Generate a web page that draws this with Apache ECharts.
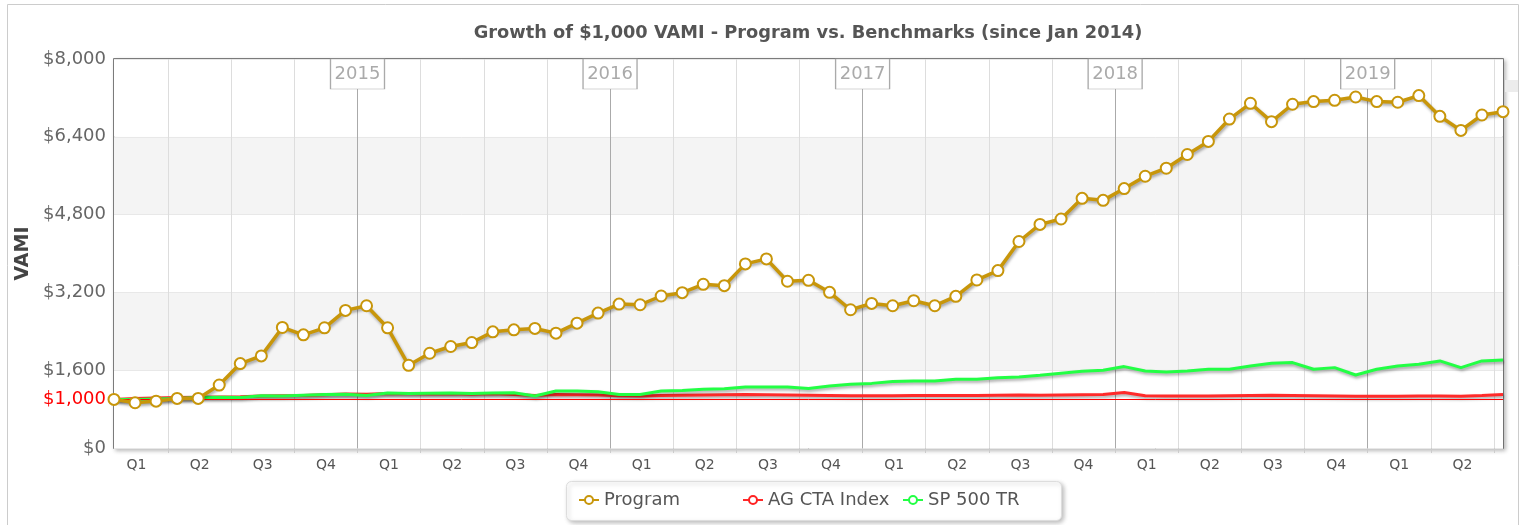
<!DOCTYPE html>
<html>
<head>
<meta charset="utf-8">
<script src="https://cdn.jsdelivr.net/npm/echarts@6/dist/echarts.min.js"></script>
<style>
  html, body { margin: 0; padding: 0; background: #fff; }
  #chart { width: 1529px; height: 525px; }
</style>
</head>
<body>
<div id="chart"></div>
<script>
// values, one point per month, Jan 2014 .. Jul 2019
const program = [
    1000, 931, 964, 1020, 1020, 1295, 1736, 1894, 2479, 2327,
    2472, 2830, 2926, 2472, 1701, 1949, 2087, 2169, 2389, 2430,
    2459, 2362, 2568, 2775, 2960, 2946, 3126, 3194, 3367, 3339,
    3786, 3889, 3429, 3449, 3201, 2843, 2974, 2926, 3029, 2926,
    3119, 3456, 3648, 4247, 4598, 4709, 5134, 5093, 5335, 5589,
    5754, 6036, 6305, 6765, 7089, 6711, 7069, 7124, 7151, 7219,
    7124, 7110, 7248, 6821, 6532, 6848, 6917
];
const agCta = [
    1000, 1020, 1030, 1040, 1045, 1050, 1055, 1070, 1075, 1080,
    1095, 1110, 1105, 1120, 1115, 1110, 1115, 1105, 1115, 1100,
    1080, 1100, 1095, 1090, 1075, 1070, 1080, 1085, 1090, 1095,
    1100, 1095, 1090, 1085, 1080, 1075, 1075, 1075, 1080, 1080,
    1080, 1080, 1085, 1090, 1085, 1090, 1095, 1100, 1140, 1075,
    1070, 1070, 1070, 1075, 1080, 1085, 1080, 1075, 1070, 1065,
    1065, 1065, 1070, 1070, 1065, 1080, 1100
];
const sp500 = [
    1000, 1000, 1010, 1020, 1040, 1045, 1040, 1075, 1070, 1085,
    1100, 1105, 1080, 1130, 1120, 1125, 1130, 1120, 1130, 1137,
    1068, 1171, 1171, 1157, 1102, 1102, 1171, 1185, 1206, 1219,
    1254, 1254, 1254, 1226, 1274, 1309, 1329, 1370, 1378, 1378,
    1412, 1412, 1447, 1460, 1494, 1536, 1577, 1598, 1674, 1584,
    1563, 1584, 1619, 1619, 1688, 1743, 1757, 1619, 1653, 1501,
    1619, 1688, 1722, 1791, 1653, 1791, 1812
];
const seriesNames = ['Program', 'AG CTA Index', 'SP 500 TR'];
const yearLabels = ['2015', '2016', '2017', '2018', '2019'];
const quarterNames = ['Q1', 'Q2', 'Q3', 'Q4'];

// x axis is in months since 1 Jan 2014; each point sits a bit into its month
const POINT_OFFSET = 0.43;
const toXY = arr => arr.map((v, i) => [i + POINT_OFFSET, v]);
const xMin = POINT_OFFSET;
const xMax = program.length - 1 + POINT_OFFSET;

const quarterBounds = [];
for (let m = 3; m < xMax; m += 3) quarterBounds.push(m);
const quarterMids = [];
for (let m = 1.5; m < xMax; m += 3) quarterMids.push(m);

const shadow = {
    shadowColor: 'rgba(0,0,0,0.35)',
    shadowBlur: 3,
    shadowOffsetX: 1,
    shadowOffsetY: 2
};
const FONT = "'DejaVu Sans', Verdana, sans-serif";

// one legend per item so the spacing matches the fixed-width items of the original
const legendLefts = [578, 742, 902];
const legends = seriesNames.map((name, k) => ({
    left: legendLefts[k],
    top: 491,
    padding: 0,
    itemWidth: 20,
    itemHeight: 10,
    textStyle: { fontSize: 18, color: '#555', fontFamily: FONT },
    data: [name]
}));

const chart = echarts.init(document.getElementById('chart'), null, { renderer: 'canvas' });

const option = {
    backgroundColor: '#fff',
    animation: false,
    textStyle: { fontFamily: FONT },
    title: {
        text: 'Growth of $1,000 VAMI - Program vs. Benchmarks (since Jan 2014)',
        left: 803,
        top: 19,
        textAlign: 'center',
        textStyle: { fontSize: 17.8, fontWeight: 'bold', color: '#555', fontFamily: FONT }
    },
    graphic: [
        { type: 'rect', shape: { x: 7.5, y: 4.5, width: 1511, height: 530 },
          style: { fill: 'none', stroke: '#ccc', lineWidth: 1 }, silent: true, z: -1 },
        { type: 'rect', shape: { x: 1505, y: 80, width: 13, height: 12 },
          style: { fill: '#ececec' }, silent: true },
        { type: 'rect', shape: { x: 566.5, y: 481.5, width: 495, height: 39, r: 5 },
          style: { fill: '#fff', stroke: '#ddd', lineWidth: 1,
                   shadowColor: 'rgba(0,0,0,0.25)', shadowBlur: 4, shadowOffsetX: 2, shadowOffsetY: 2 },
          silent: true, z: 0 }
    ],
    legend: legends,
    grid: {
        left: 114,
        right: 26,
        top: 59,
        bottom: 77,
        show: true,
        backgroundColor: '#fff',
        borderColor: '#555',
        borderWidth: 1.5,
        shadowColor: 'rgba(0,0,0,0.25)',
        shadowBlur: 4,
        shadowOffsetX: 2,
        shadowOffsetY: 2
    },
    xAxis: {
        type: 'value',
        min: xMin,
        max: xMax,
        axisLine: { show: false },
        axisTick: {
            show: true,
            length: 5,
            customValues: quarterBounds,
            lineStyle: { color: '#ccc' }
        },
        axisLabel: {
            customValues: quarterMids,
            margin: 10,
            fontSize: 14,
            color: '#555',
            formatter: v => quarterNames[Math.floor(v / 3) % 4]
        },
        splitLine: {
            show: true,
            lineStyle: { color: ['#ddd', '#ddd', '#ddd', '#aaa'], width: 1 }
        }
    },
    yAxis: {
        type: 'value',
        min: 0,
        max: 8000,
        interval: 1600,
        name: 'VAMI',
        nameLocation: 'middle',
        nameGap: 79,
        nameRotate: 90,
        nameTextStyle: { fontSize: 19, fontWeight: 'bold', color: '#444', fontFamily: FONT },
        axisLine: { show: false },
        axisTick: { show: false },
        axisLabel: {
            margin: 8,
            fontSize: 18,
            color: '#666',
            formatter: v => '$' + v.toLocaleString('en-US')
        },
        splitLine: { show: true, lineStyle: { color: '#e8e8e8' } },
        splitArea: { show: true, areaStyle: { color: ['#fff', '#f4f4f4'] } }
    },
    series: [
        {
            name: seriesNames[1],
            type: 'line',
            z: 3,
            data: toXY(agCta),
            showSymbol: false,
            symbol: 'circle',
            symbolSize: 10,
            itemStyle: { color: '#fff', borderColor: '#ff2222', borderWidth: 2 },
            lineStyle: Object.assign({ color: '#ff2a2a', width: 3 }, shadow),
            markLine: {
                silent: true,
                symbol: 'none',
                lineStyle: { color: '#ff0000', width: 1, type: 'solid' },
                label: {
                    position: 'start',
                    distance: 8,
                    formatter: '$1,000',
                    color: '#ff0000',
                    fontSize: 18,
                    fontFamily: FONT
                },
                data: [{ yAxis: 1000 }]
            }
        },
        {
            name: seriesNames[2],
            type: 'line',
            z: 4,
            data: toXY(sp500),
            showSymbol: false,
            symbol: 'circle',
            symbolSize: 10,
            itemStyle: { color: '#fff', borderColor: '#22ff44', borderWidth: 2 },
            lineStyle: Object.assign({ color: '#22ff44', width: 3 }, shadow)
        },
        {
            name: seriesNames[0],
            type: 'line',
            z: 5,
            data: toXY(program),
            symbol: 'circle',
            symbolSize: 11,
            itemStyle: { color: '#fff', borderColor: '#c8960a', borderWidth: 2 },
            lineStyle: Object.assign({ color: '#c8960a', width: 3.5 }, shadow),
            markPoint: {
                silent: true,
                symbol: 'rect',
                symbolSize: [54, 30],
                symbolOffset: [0, '50%'],
                itemStyle: { color: '#fff', borderColor: '#aaa', borderWidth: 1 },
                label: {
                    show: true,
                    position: 'inside',
                    color: '#aaa',
                    fontSize: 18,
                    fontFamily: FONT,
                    formatter: p => p.name
                },
                data: yearLabels.map((y, k) => ({ name: y, coord: [12 * (k + 1), 8000] }))
            }
        }
    ]
};

chart.setOption(option);
window.addEventListener('resize', () => chart.resize());
</script>
</body>
</html>
